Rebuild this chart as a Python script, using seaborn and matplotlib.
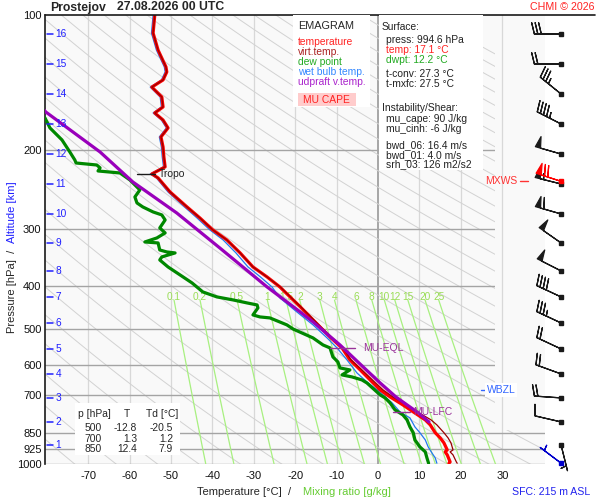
import numpy as np
import matplotlib
matplotlib.use('Agg')
import matplotlib.pyplot as plt
import matplotlib.transforms as mtransforms
from matplotlib.patches import Rectangle, Polygon
from matplotlib.lines import Line2D
from matplotlib.ticker import NullLocator
import seaborn as sns

sns.set_theme(style='white')
plt.rcParams['font.family'] = ['Liberation Sans', 'DejaVu Sans']

####### sounding values #######
# temperature [hPa], [degC]
t_p = [100.0, 109.7, 119.7, 130.5, 133.9, 139.5, 144.7, 152.2, 160.2, 165.2, 171.3,
       178.4, 186.8, 196.7, 207.0, 217.8, 225.8, 230.5, 247.7, 267.5, 283.0, 300.8,
       316.7, 338.5, 363.7, 382.8, 403.0, 430.7, 444.0, 477.0, 520.8, 550.8, 585.6,
       616.6, 659.0, 683.0, 708.0, 737.6, 764.5, 796.5, 817.2, 850.5, 873.4, 896.0,
       928.9, 938.4, 953.0, 987.9, 994.6]
t_c = [-53.9, -54.3, -53.1, -51.2, -51.0, -51.9, -54.6, -52.2, -51.9, -53.9, -51.9,
       -50.7, -52.4, -51.9, -51.7, -51.4, -54.6, -53.1, -50.2, -46.1, -43.0, -39.9,
       -36.5, -33.3, -30.2, -26.8, -23.7, -20.5, -19.0, -15.7, -11.6, -8.7, -6.8,
       -4.3, -1.2, 0.5, 2.9, 6.0, 8.5, 11.4, 12.6, 13.8, 15.0, 15.9,
       16.7, 16.2, 16.7, 17.4, 17.1]
# virtual temperature on the same levels
tv_c = [-53.9, -54.3, -53.1, -51.2, -51.0, -51.9, -54.6, -52.2, -51.9, -53.9, -51.9,
        -50.7, -52.4, -51.9, -51.7, -51.4, -54.6, -53.1, -50.2, -46.1, -43.0, -39.9,
        -36.5, -33.3, -30.2, -26.8, -23.6, -20.4, -18.9, -15.5, -11.4, -8.5, -6.5,
        -3.9, -0.6, 1.2, 3.6, 6.9, 9.5, 12.8, 14.2, 15.9, 16.9, 17.6,
        18.1, 17.4, 18.1, 18.9, 19.1]

# wet bulb temperature
tw_p = [100.0, 109.7, 119.7, 130.5, 133.9, 139.5, 144.7, 152.2, 160.2, 165.2, 171.3,
        178.4, 186.8, 196.7, 207.0, 217.8, 225.8, 230.5, 247.7, 267.5, 283.0, 300.8,
        316.7, 338.5, 363.7, 382.8, 403.0, 426.3, 458.0, 489.5, 523.3, 550.8, 585.7,
        626.0, 655.6, 683.0, 730.1, 764.5, 788.4, 825.6, 850.5, 882.5, 914.7, 943.2,
        967.7, 994.6]
tw_c = [-54.3, -54.7, -53.5, -51.6, -51.4, -52.3, -55.0, -52.6, -52.3, -54.3, -52.3,
        -51.1, -52.8, -52.3, -52.1, -51.8, -55.0, -53.5, -50.7, -46.7, -43.7, -40.6,
        -37.4, -34.3, -31.4, -28.4, -25.6, -23.7, -19.6, -15.7, -12.3, -9.9, -7.5,
        -5.1, -2.7, -0.2, 3.4, 5.3, 7.7, 8.9, 10.1, 11.4, 12.1, 13.0,
        13.8, 14.2]

# dew point
td_p = [165.0, 169.5, 178.4, 189.7, 201.8, 210.2, 213.5, 215.7, 218.9, 222.4, 224.7,
        232.9, 245.1, 254.1, 262.0, 267.4, 274.4, 278.6, 285.9, 297.8, 305.5, 313.5,
        320.0, 321.6, 333.4, 336.8, 338.5, 345.5, 350.9, 363.7, 378.9, 394.8, 413.4,
        424.1, 430.7, 437.4, 441.9, 448.7, 465.1, 469.9, 472.3, 489.5, 500.0, 523.3,
        542.4, 550.8, 576.8, 591.7, 610.2, 616.5, 632.5, 639.0, 648.9, 659.0, 700.7,
        711.6, 730.1, 756.7, 776.4, 796.5, 825.6, 850.5, 882.5, 914.7, 938.4, 967.7,
        994.6]
td_c = [-82.0, -80.4, -79.2, -76.3, -74.4, -73.2, -72.9, -67.9, -67.1, -67.6, -62.3,
        -59.9, -57.5, -58.7, -58.2, -56.8, -54.3, -52.2, -51.4, -52.7, -51.4, -53.4,
        -56.3, -53.1, -52.7, -51.0, -49.0, -52.2, -52.7, -50.7, -47.8, -44.9, -42.3,
        -38.9, -35.0, -31.6, -29.2, -29.0, -30.2, -28.5, -26.1, -22.0, -20.5, -15.7,
        -13.3, -11.6, -10.9, -9.7, -9.2, -6.8, -8.7, -6.3, -3.9, -2.7, 0.5,
        1.7, 2.9, 4.1, 6.0, 7.0, 7.7, 8.5, 8.9, 10.1, 11.4, 11.8,
        12.2]

# most unstable parcel (updraft virtual temperature)
pcl_p = [160.0, 164.4, 201.8, 235.3, 275.8, 330.0, 402.9, 458.0, 482.1, 542.4,
         607.1, 659.0, 708.0, 737.6, 764.5, 785.0, 805.0]
pcl_c = [-81.3, -80.2, -67.1, -59.2, -48.6, -38.2, -26.8, -18.8, -15.7, -9.2,
         -3.6, 0.5, 4.3, 7.0, 9.4, 10.9, 12.3]

# altitude [km] marks and wind barbs (one per km), knots
alt_km = [16, 15, 14, 13, 12, 11, 10, 9, 8, 7, 6, 5, 4, 3, 2, 1]
alt_p = [110.2, 128.5, 149.9, 174.8, 203.9, 237.7, 277.2, 321.6, 371.2, 424.1,
         484.6, 553.6, 629.3, 711.6, 804.7, 905.4]
wind_dir = [270, 270, 309, 297, 286, 284, 286, 305, 297, 295, 295, 295, 290, 274, 283, 166]
wind_spd = [30, 20, 35, 45, 50, 55, 60, 50, 50, 40, 35, 20, 20, 20, 10, 5]
sfc_p, sfc_dir, sfc_spd = 994.6, 307, 5
mxws_p, mxws_dir, mxws_spd = 234.0, 288, 70

tropo_p = 225.8
eql_p = 550.8
lfc_p = 764.5
wbzl_p = 683.0

# chart furniture
p_ticks = [100, 200, 300, 400, 500, 600, 700, 850, 925, 1000]
t_ticks = [-70, -60, -50, -40, -30, -20, -10, 0, 10, 20, 30]
theta_k = list(range(200, 560, 10))
mix_ratio = [0.1, 0.2, 0.5, 1, 1.5, 2, 3, 4, 6, 8, 10, 12, 15, 20, 25]

table_rows = [('500', '-12.8', '-20.5'), ('700', '1.3', '1.2'), ('850', '12.4', '7.9')]

####### colours #######
RED = '#ff0000'
DRED = '#990000'
GREEN = '#008800'
BLUE = '#2277ee'
PURPLE = '#9900bb'
MIXC = '#a8f080'
ALTC = '#2020ff'

####### figure #######
fig = plt.figure(figsize=(6, 5), dpi=100)
fig.patch.set_facecolor('white')


def fx(x):
    return x / 600


def fy(y):
    return 1 - y / 500


ax = fig.add_axes([fx(45), fy(464.3), 500 / 600, 449.3 / 500])
ax.set_facecolor('#f9f9f9')
ax.set_yscale('log')
ax.set_ylim(1000, 100)
ax.set_xlim(-80.4, 40.3)

clip = Polygon([(-80.4, 100), (28.3, 100), (28.3, 840), (40.3, 840), (40.3, 1000), (-80.4, 1000)],
               closed=True, transform=ax.transData, facecolor='none', edgecolor='none')
ax.add_patch(clip)

# isotherms
for t in t_ticks:
    if t == 0:
        ax.axvline(t, color='#909090', lw=1.1, zorder=1)
    else:
        ax.axvline(t, color='#d8d8d8', lw=0.9, zorder=1)

# isobars
for p in p_ticks[1:]:
    ln, = ax.plot([-80.4, 40.3], [p, p], color='#a4a4a4', lw=1.0, zorder=1.2)
    ln.set_clip_path(clip)

# dry adiabats
pp = np.geomspace(100, 1000, 120)
for th in theta_k:
    ln, = ax.plot(th * (pp / 1000.0) ** 0.286 - 273.15, pp, color='#d2d2d2', lw=0.7, zorder=1.1)
    ln.set_clip_path(clip)

# mixing ratio lines
pm = np.geomspace(431, 1000, 60)
for w in mix_ratio:
    lne = np.log(w * pm / (622.0 + w) / 6.112)
    td_line = 243.5 * lne / (17.67 - lne)
    ln, = ax.plot(td_line, pm, color=MIXC, lw=0.9, zorder=1.3)
    ln.set_clip_path(clip)
    ax.text(td_line[0], 424, ('%g' % w), color='#99dd55', fontsize=7.3,
            ha='center', va='center', zorder=2)

# CAPE shading
pf = np.geomspace(eql_p - 5, lfc_p + 5, 300)
pc = np.interp(np.log(pf), np.log(pcl_p), pcl_c)
vc = np.interp(np.log(pf), np.log(t_p), tv_c)
ax.fill_betweenx(pf, vc, pc, where=pc > vc, interpolate=True, color='#ffc8c8', lw=0, zorder=2)

# profiles
sns.lineplot(x=tw_c, y=tw_p, sort=False, estimator=None, color=BLUE, lw=0.9, ax=ax, zorder=3)
sns.lineplot(x=td_c, y=td_p, sort=False, estimator=None, color=GREEN, lw=2.3, ax=ax, zorder=3.5)
sns.lineplot(x=t_c, y=t_p, sort=False, estimator=None, color=RED, lw=2.3, ax=ax, zorder=4)
sns.lineplot(x=tv_c, y=t_p, sort=False, estimator=None, color=DRED, lw=0.9, ax=ax, zorder=4.5)
sns.lineplot(x=pcl_c, y=pcl_p, sort=False, estimator=None, color=PURPLE, lw=2.3, ax=ax, zorder=5)

# level markers
ax.plot([-58.2, -53.9], [tropo_p, tropo_p], color='k', lw=1.0, zorder=6)
ax.text(-53.0, tropo_p, 'Tropo', fontsize=7.5, va='center', ha='left', color='#222222', zorder=6)
ax.plot([-11.6, -5.6], [eql_p, eql_p], color='#993399', lw=1.0, zorder=6)
ax.text(-3.6, eql_p, 'MU-EQL', fontsize=7.5, va='center', ha='left', color='#993399', zorder=6)
ax.plot([3.6, 7.7], [lfc_p, lfc_p], color='#993399', lw=1.0, zorder=6)
ax.text(8.5, lfc_p, 'MU-LFC', fontsize=7.5, va='center', ha='left', color='#993399', zorder=6)
ax.plot([24.9, 26.1], [wbzl_p, wbzl_p], color='#3366ff', lw=1.0, zorder=6, clip_on=False)
ax.text(26.3, wbzl_p, 'WBZL', fontsize=7.5, va='center', ha='left', color='#3366ff', zorder=6,
        bbox=dict(facecolor='white', edgecolor='none', pad=1.2))

# axes cosmetics
for s in ['top', 'right', 'bottom']:
    ax.spines[s].set_visible(False)
ax.spines['left'].set_color('k')
ax.spines['left'].set_linewidth(1.2)
ax.set_yticks(p_ticks)
ax.set_yticklabels([str(p) for p in p_ticks])
ax.yaxis.set_minor_locator(NullLocator())
ax.set_xticks(t_ticks)
ax.set_xticklabels([str(t) for t in t_ticks])
ax.tick_params(axis='both', length=0, labelsize=8, colors='#111111')
ax.tick_params(axis='x', pad=4.5)
ax.tick_params(axis='y', pad=2.5)
ax.set_xlabel('')
ax.set_ylabel('')
ax.grid(False)

# altitude scale
bl = mtransforms.blended_transform_factory(ax.transAxes, ax.transData)
for km, p in zip(alt_km, alt_p):
    ax.plot([0.004, 0.016], [p, p], color=ALTC, lw=1.1, transform=bl, zorder=6)
    ax.text(0.021, p, str(km), color=ALTC, fontsize=7.3, ha='left', va='center', transform=bl, zorder=6)

# wind barbs (barb length in matplotlib scales as length**2/2 points)
axw = fig.add_axes([fx(495), fy(464.3), 105 / 600, 449.3 / 500])
axw.set_yscale('log')
axw.set_ylim(1000, 100)
axw.set_xlim(0, 1)
axw.axis('off')
xb = 0.629
blen = 6.2
rad = np.deg2rad(wind_dir)
u = -np.array(wind_spd) * np.sin(rad)
v = -np.array(wind_spd) * np.cos(rad)
bsizes = dict(spacing=0.13, height=0.42, width=0.2, emptybarb=0.0)
axw.barbs([xb] * len(alt_p), alt_p, u, v, length=blen, sizes=bsizes, lw=0.9, color='k', clip_on=False)
axw.plot([xb] * len(alt_p), alt_p, ls='none', marker='s', ms=2.6, color='k', clip_on=False)
r = np.deg2rad(mxws_dir)
axw.barbs([xb], [mxws_p], [-mxws_spd * np.sin(r)], [-mxws_spd * np.cos(r)], length=blen, sizes=bsizes,
          lw=0.9, color='#ff0000', clip_on=False, zorder=4)
axw.plot([xb], [mxws_p], ls='none', marker='s', ms=2.6, color='#ff0000', clip_on=False, zorder=4)
r = np.deg2rad(sfc_dir)
axw.barbs([xb], [sfc_p], [-sfc_spd * np.sin(r)], [-sfc_spd * np.cos(r)], length=blen, sizes=bsizes,
          lw=0.9, color='#0000cc', clip_on=False)
axw.plot([xb], [sfc_p], ls='none', marker='s', ms=2.8, color='#0000cc', clip_on=False)

bf = mtransforms.blended_transform_factory(fig.transFigure, ax.transData)
ax.text(fx(517), mxws_p, 'MXWS', color='#ff3333', fontsize=7.5, ha='right', va='center',
        transform=bf, zorder=6)
ax.add_line(Line2D([fx(520), fx(528)], [mxws_p, mxws_p], color='#ff3333', lw=1.0, transform=bf,
                   clip_on=False, zorder=6))

# top border line
fig.add_artist(Line2D([fx(45), fx(595)], [fy(15), fy(15)], color='k', lw=1.2, transform=fig.transFigure))

# titles / labels
fig.text(fx(50), fy(7.5), 'Prostejov', fontsize=8.8, fontweight='bold', ha='left', va='center')
fig.text(fx(117), fy(7.5), '27.08.2026 00 UTC', fontsize=8.8, fontweight='bold', ha='left', va='center')
fig.text(fx(595), fy(7), 'CHMI \u00a9 2026', fontsize=7.7, color='#ff2222', ha='right', va='center')
fig.text(fx(12), fy(333), 'Pressure [hPa]  /', rotation=90, fontsize=8, ha='center', va='bottom')
fig.text(fx(12), fy(243), 'Altitude [km]', rotation=90, fontsize=8, ha='center', va='bottom', color=ALTC)
fig.text(fx(197), fy(492), 'Temperature [\u00b0C]  /', fontsize=8, ha='left', va='center')
fig.text(fx(303), fy(492), 'Mixing ratio [g/kg]', fontsize=8, ha='left', va='center', color='#66cc33')
fig.text(fx(590), fy(492), 'SFC: 215 m ASL', fontsize=7.6, ha='right', va='center', color='#2222ee')

# legend box
fig.add_artist(Rectangle((fx(293), fy(107)), 77 / 600, 92 / 500, transform=fig.transFigure,
                         facecolor='white', edgecolor='none', zorder=3))
fig.text(fx(298), fy(26), 'EMAGRAM', fontsize=7.8, ha='left', va='center', zorder=4)
legend_items = [('temperature', '#ff2222'), ('virt.temp.', '#aa2222'), ('dew point', '#22aa22'),
                ('wet bulb temp.', '#3388ff'), ('udpraft v.temp.', '#aa22cc')]
for i, (txt, col) in enumerate(legend_items):
    fig.text(fx(298), fy(42 + 10 * i), txt, fontsize=7.4, color=col, ha='left', va='center', zorder=4)
fig.add_artist(Rectangle((fx(298), fy(106)), 58 / 600, 13 / 500, transform=fig.transFigure,
                         facecolor='#ffcccc', edgecolor='none', zorder=4))
fig.text(fx(303), fy(100), 'MU CAPE', fontsize=7.4, color='#ff2222', ha='left', va='center', zorder=5)

# surface / instability box
fig.add_artist(Rectangle((fx(379), fy(170)), 104 / 600, 155 / 500, transform=fig.transFigure,
                         facecolor='white', edgecolor='none', zorder=3))
info_lines = [('Surface:', '#222222', 27, 382), ('press: 994.6 hPa', '#222222', 40, 386),
              ('temp: 17.1 \u00b0C', '#ff2222', 50, 386), ('dwpt: 12.2 \u00b0C', '#22aa22', 60, 386),
              ('t-conv: 27.3 \u00b0C', '#222222', 74, 386), ('t-mxfc: 27.5 \u00b0C', '#222222', 84, 386),
              ('Instability/Shear:', '#222222', 108, 382), ('mu_cape: 90 J/kg', '#222222', 119, 386),
              ('mu_cinh: -6 J/kg', '#222222', 129, 386), ('bwd_06: 16.4 m/s', '#222222', 145, 386),
              ('bwd_01: 4.0 m/s', '#222222', 155, 386), ('srh_03: 126 m2/s2', '#222222', 164, 386)]
for txt, col, yy, xx in info_lines:
    fig.text(fx(xx), fy(yy), txt, fontsize=7.4, color=col, ha='left', va='center', zorder=4)

# small table
fig.add_artist(Rectangle((fx(75), fy(455)), 105 / 600, 52 / 500, transform=fig.transFigure,
                         facecolor='white', edgecolor='none', zorder=3))
fig.text(fx(78), fy(414), 'p [hPa]', fontsize=7.4, ha='left', va='center', zorder=4)
fig.text(fx(127), fy(414), 'T', fontsize=7.4, ha='center', va='center', zorder=4)
fig.text(fx(146), fy(414), 'Td [\u00b0C]', fontsize=7.4, ha='left', va='center', zorder=4)
for i, (pr, tt, dd) in enumerate(table_rows):
    yy = 428 + 10.5 * i
    fig.text(fx(102), fy(yy), pr, fontsize=7.4, ha='right', va='center', zorder=4)
    fig.text(fx(137), fy(yy), tt, fontsize=7.4, ha='right', va='center', zorder=4)
    fig.text(fx(173), fy(yy), dd, fontsize=7.4, ha='right', va='center', zorder=4)

fig.savefig('out.png', dpi=100)
